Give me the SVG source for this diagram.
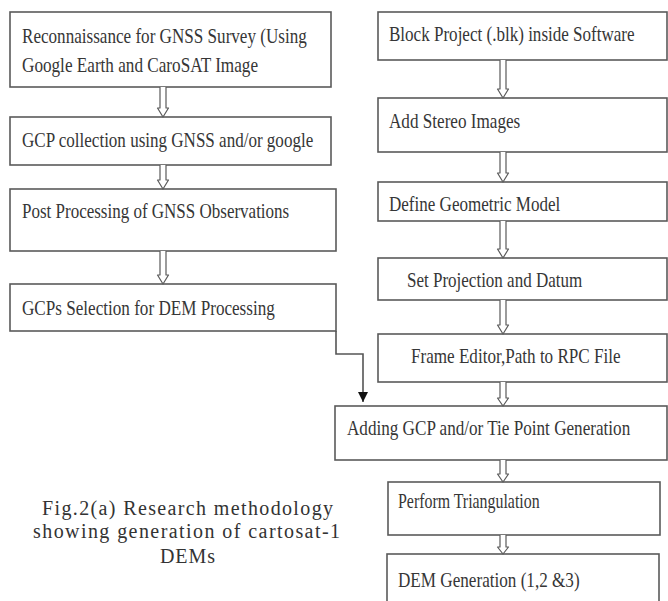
<svg xmlns="http://www.w3.org/2000/svg" width="668" height="601" viewBox="0 0 668 601">
<style>
.box{fill:#fff;stroke:#5a5a5a;stroke-width:1.6}
.t{font-family:"Liberation Serif","Times New Roman",serif;font-size:22px;fill:#363636}
.cap{font-family:"Liberation Serif","Times New Roman",serif;font-size:20px;fill:#333}
.ha{fill:#fff;stroke:#5a5a5a;stroke-width:1.2;stroke-linejoin:round}
.con{fill:none;stroke:#555;stroke-width:1.6}
</style>
<defs>
<marker id="ah" markerWidth="10" markerHeight="10" refX="10" refY="5" orient="auto" markerUnits="userSpaceOnUse" viewBox="0 0 10 10">
<path d="M0,0 L10,5 L0,10 Z" fill="#111"/>
</marker>
</defs>
<rect width="668" height="601" fill="#fff"/>

<g id="n1"><rect class="box" x="10" y="12" width="321" height="75"/>
<text class="t" transform="translate(22,43) scale(0.8,1)" textLength="356" lengthAdjust="spacingAndGlyphs">Reconnaissance for GNSS Survey (Using</text>
<text class="t" transform="translate(22,72) scale(0.8,1)" textLength="295" lengthAdjust="spacingAndGlyphs">Google Earth and CaroSAT Image</text></g>
<g id="n2"><rect class="box" x="10" y="117" width="321" height="48"/>
<text class="t" transform="translate(22,147) scale(0.8,1)" textLength="364" lengthAdjust="spacingAndGlyphs">GCP collection using GNSS and/or google</text></g>
<g id="n3"><rect class="box" x="10" y="189" width="326" height="62"/>
<text class="t" transform="translate(22,218) scale(0.8,1)" textLength="334" lengthAdjust="spacingAndGlyphs">Post Processing of GNSS Observations</text></g>
<g id="n4"><rect class="box" x="10" y="284" width="326" height="47"/>
<text class="t" transform="translate(22,315) scale(0.8,1)" textLength="316" lengthAdjust="spacingAndGlyphs">GCPs Selection for DEM Processing</text></g>

<g id="r1"><rect class="box" x="378" y="12" width="289" height="48"/>
<text class="t" transform="translate(389,41) scale(0.8,1)" textLength="307" lengthAdjust="spacingAndGlyphs">Block Project (.blk) inside Software</text></g>
<g id="r2"><rect class="box" x="378" y="98" width="289" height="54"/>
<text class="t" transform="translate(389,128) scale(0.8,1)" textLength="164" lengthAdjust="spacingAndGlyphs">Add Stereo Images</text></g>
<g id="r3"><rect class="box" x="378" y="182" width="289" height="39"/>
<text class="t" transform="translate(389,211) scale(0.8,1)" textLength="214" lengthAdjust="spacingAndGlyphs">Define Geometric Model</text></g>
<g id="r4"><rect class="box" x="378" y="258" width="289" height="42"/>
<text class="t" transform="translate(407,287) scale(0.8,1)" textLength="219" lengthAdjust="spacingAndGlyphs">Set Projection and Datum</text></g>
<g id="r5"><rect class="box" x="378" y="334" width="289" height="48"/>
<text class="t" transform="translate(411,363) scale(0.8,1)" textLength="262" lengthAdjust="spacingAndGlyphs">Frame Editor,Path to RPC File</text></g>
<g id="r6"><rect class="box" x="335" y="406" width="332" height="54"/>
<text class="t" transform="translate(347,435) scale(0.8,1)" textLength="354" lengthAdjust="spacingAndGlyphs">Adding GCP and/or Tie Point Generation</text></g>
<g id="r7"><rect class="box" x="388" y="482" width="272" height="53"/>
<text class="t" transform="translate(398,508) scale(0.8,1)" textLength="177" lengthAdjust="spacingAndGlyphs">Perform Triangulation</text></g>
<g id="r8"><rect class="box" x="387" y="554" width="272" height="60"/>
<text class="t" transform="translate(398,587) scale(0.8,1)" textLength="227" lengthAdjust="spacingAndGlyphs">DEM Generation (1,2 &amp;3)</text></g>

<g id="connectors">
<path class="ha" d="M160,87 V108 H157.5 L163,117 L168.5,108 H166 V87"/>
<path class="ha" d="M160,165 V180 H157.5 L163,189 L168.5,180 H166 V165"/>
<path class="ha" d="M160,251 V275 H157.5 L163,284 L168.5,275 H166 V251"/>
<path class="ha" d="M500,60 V89 H497.5 L503,98 L508.5,89 H506 V60"/>
<path class="ha" d="M500,152 V173 H497.5 L503,182 L508.5,173 H506 V152"/>
<path class="ha" d="M500,221 V249 H497.5 L503,258 L508.5,249 H506 V221"/>
<path class="ha" d="M500,300 V325 H497.5 L503,334 L508.5,325 H506 V300"/>
<path class="ha" d="M500,382 V398 H497.5 L503,406 L508.5,398 H506 V382"/>
<path class="ha" d="M500,460 V474 H497.5 L503,482 L508.5,474 H506 V460"/>
<path class="ha" d="M500,535 V547 H497.5 L503,554 L508.5,547 H506 V535"/>
<path class="con" d="M336,331 V354 H363 V402" marker-end="url(#ah)"/>
</g>

<g id="caption">
<text class="cap" x="42" y="515" textLength="291" lengthAdjust="spacing">Fig.2(a) Research methodology</text>
<text class="cap" x="33" y="538" textLength="307" lengthAdjust="spacing">showing generation of cartosat-1</text>
<text class="cap" x="188" y="563" text-anchor="middle" letter-spacing="1">DEMs</text>
</g>
</svg>
